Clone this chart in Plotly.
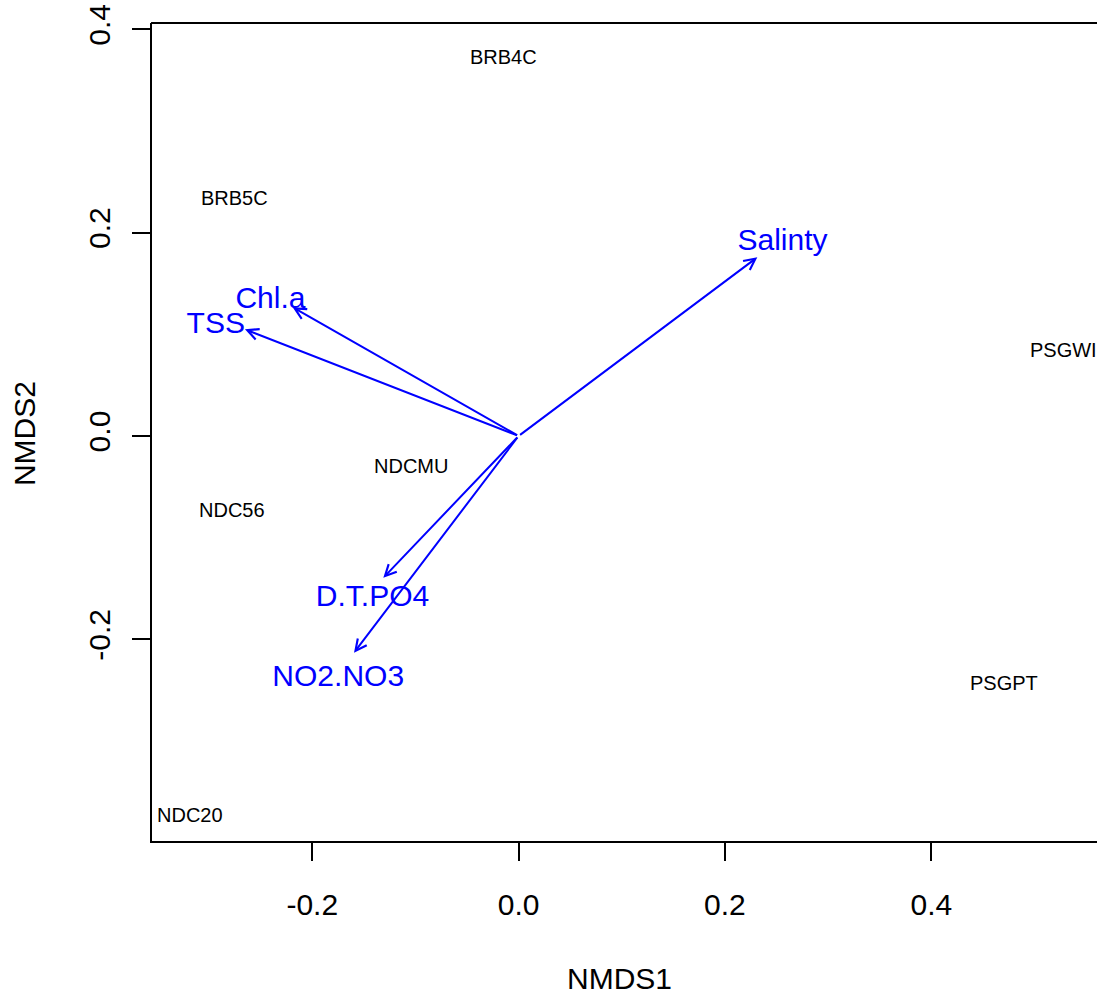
import plotly.graph_objects as go

# Site scores (NMDS1, NMDS2)
sites = ["BRB4C", "BRB5C", "PSGWI", "NDCMU", "NDC56", "PSGPT", "NDC20"]
site_x = [-0.0148, -0.2749, 0.5280, -0.1042, -0.2778, 0.4705, -0.3185]
site_y = [0.3723, 0.2341, 0.0846, -0.0295, -0.0728, -0.2429, -0.3728]

# Environmental vectors (arrow tips) and their label positions
env_vars = ["Salinty", "Chl.a", "TSS", "D.T.PO4", "NO2.NO3"]
vec_x = [0.2314, -0.2190, -0.2652, -0.1311, -0.1595]
vec_y = [0.1758, 0.1266, 0.1049, -0.1394, -0.2131]
lab_x = [0.2558, -0.2405, -0.2935, -0.1416, -0.1748]
lab_y = [0.1900, 0.1330, 0.1085, -0.1600, -0.2385]

tick_vals = [-0.2, 0.0, 0.2, 0.4]
tick_text = ["-0.2", "0.0", "0.2", "0.4"]

FONT = "Liberation Sans, Arial, Helvetica, sans-serif"
BLUE = "#0000FF"

fig = go.Figure()

# site labels (drawn as data-anchored annotations so they stay on top)
for sx, sy, name in zip(site_x, site_y, sites):
    fig.add_annotation(
        x=sx, y=sy, xref="x", yref="y", text=name, showarrow=False,
        xanchor="center", yanchor="middle",
        font=dict(family=FONT, size=20, color="black"),
    )

fig.add_trace(go.Scatter(
    x=lab_x, y=lab_y, text=env_vars, mode="text",
    textposition="middle center", cliponaxis=False,
    textfont=dict(family=FONT, size=30, color=BLUE),
    hoverinfo="skip", showlegend=False,
))

for vx, vy in zip(vec_x, vec_y):
    fig.add_annotation(
        x=vx, y=vy, ax=0, ay=0, xref="x", yref="y", axref="x", ayref="y",
        text="", showarrow=True, arrowhead=5, arrowsize=1.1, arrowwidth=2,
        arrowcolor=BLUE, standoff=0, startstandoff=0,
    )

fig.add_annotation(
    x=0.4952, y=-0.1687, xref="paper", yref="paper", text="NMDS1",
    showarrow=False, xanchor="center", yanchor="middle",
    font=dict(family=FONT, size=30, color="black"),
)
fig.add_annotation(
    x=-0.1347, y=0.4983, xref="paper", yref="paper", text="NMDS2",
    showarrow=False, xanchor="center", yanchor="middle", textangle=-90,
    font=dict(family=FONT, size=30, color="black"),
)

# the reference box is open on the right: keep the right edge clear
fig.add_shape(
    type="rect", xref="paper", yref="paper", x0=0.9979, x1=1.01, y0=0.003, y1=0.997,
    fillcolor="white", line=dict(width=0), layer="above",
)
# top border of the plot box
fig.add_shape(
    type="line", xref="paper", yref="paper", x0=-0.001, x1=1.01, y0=1, y1=1,
    line=dict(color="black", width=2), layer="above",
)

fig.update_layout(
    width=1097, height=998,
    margin=dict(l=152, r=0, t=23, b=157, pad=0),
    plot_bgcolor="white", paper_bgcolor="white",
    font=dict(family=FONT, size=30, color="black"),
    xaxis=dict(
        range=[-0.3553, 0.5606], showgrid=False, zeroline=False,
        showline=True, linecolor="black", linewidth=2, mirror=False,
        ticks="outside", ticklen=18, tickwidth=2, tickcolor="black",
        tickvals=tick_vals, ticktext=tick_text,
        tickfont=dict(family=FONT, size=30, color="black"),
        ticklabelstandoff=18,
    ),
    yaxis=dict(
        range=[-0.3983, 0.4062], showgrid=False, zeroline=False,
        showline=True, linecolor="black", linewidth=2, mirror=False,
        ticks="outside", ticklen=18, tickwidth=2, tickcolor="black",
        tickvals=tick_vals, ticktext=tick_text, tickangle=-90,
        tickfont=dict(family=FONT, size=30, color="black"),
        ticklabelstandoff=10,
    ),
)

fig.write_html("out.html")
